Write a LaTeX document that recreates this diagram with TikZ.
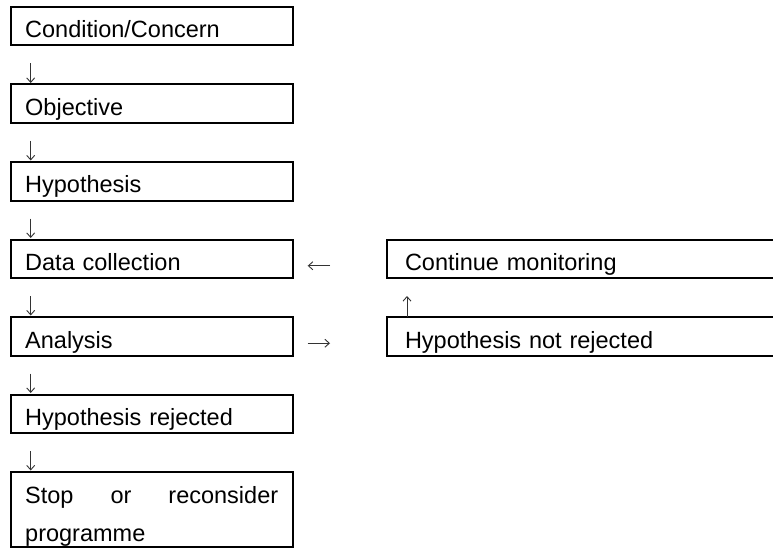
\documentclass[tikz,border=0pt]{standalone}
\usepackage{fontspec}
\setmainfont{Liberation Sans}
\usetikzlibrary{arrows.meta}
\begin{document}
\begin{tikzpicture}[x=1pt,y=-1pt,
  box/.style={draw=black, line width=2pt, anchor=north west, outer sep=0pt,
    inner xsep=14.5pt, inner ysep=0pt, text width=253pt, align=left,
    text height=31pt, text depth=7.5pt,
    font=\fontsize{23.5}{38.75}\selectfont},
  rbox/.style={box, inner xsep=18pt, text width=367pt},
  arr/.style={draw=black!80, line width=0.9pt,
    -{Straight Barb[length=4.5pt,width=8pt]}}]
\useasboundingbox (0,0) rectangle (773,548);
\clip (0,0) rectangle (773,548);
\fill[white] (0,0) rectangle (773,548);
\node[box] (b1) at (10.7,7) {Condition/Concern};
\node[box] (b2) at (10.7,84.5) {Objective};
\node[box] (b3) at (10.7,162) {Hypothesis};
\node[box] (b4) at (10.7,239.5) {Data collection};
\node[box] (b5) at (10.7,317) {Analysis};
\node[box] (b6) at (10.7,394.5) {Hypothesis rejected};
\node[box, text depth=43.5pt] (b7) at (10.7,472) {Stop\hfill or\hfill reconsider\\programme};
\node[rbox] (r4) at (387,239.5) {Continue monitoring};
\node[rbox] (r5) at (387,317) {Hypothesis not rejected};
\draw[arr] ([xshift=20pt,yshift=-18pt]b1.south west) -- ([xshift=20pt,yshift=1.5pt]b2.north west);
\draw[arr] ([xshift=20pt,yshift=-18pt]b2.south west) -- ([xshift=20pt,yshift=1.5pt]b3.north west);
\draw[arr] ([xshift=20pt,yshift=-18pt]b3.south west) -- ([xshift=20pt,yshift=1.5pt]b4.north west);
\draw[arr] ([xshift=20pt,yshift=-18pt]b4.south west) -- ([xshift=20pt,yshift=1.5pt]b5.north west);
\draw[arr] ([xshift=20pt,yshift=-18pt]b5.south west) -- ([xshift=20pt,yshift=1.5pt]b6.north west);
\draw[arr] ([xshift=20pt,yshift=-18pt]b6.south west) -- ([xshift=20pt,yshift=1.5pt]b7.north west);
\draw[arr] ([xshift=-57pt,yshift=-7pt]r4.west) -- ([xshift=15pt,yshift=-7pt]b4.east);
\draw[arr] ([xshift=15pt,yshift=-7pt]b5.east) -- ([xshift=-57pt,yshift=-7pt]r5.west);
\draw[arr] ([xshift=20pt]r5.north west) -- ([xshift=20pt,yshift=21pt]r5.north west);
\end{tikzpicture}
\end{document}
